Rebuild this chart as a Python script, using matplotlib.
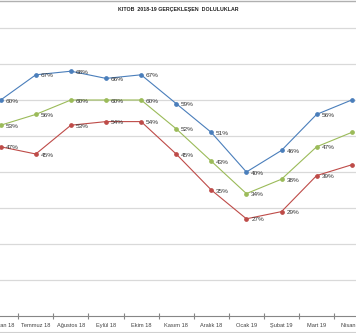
import matplotlib
matplotlib.use("Agg")
import matplotlib.pyplot as plt
from matplotlib.lines import Line2D

months = ['Haziran 18', 'Temmuz 18', 'Ağustos 18', 'Eylül 18', 'Ekim 18', 'Kasım 18',
          'Aralık 18', 'Ocak 19', 'Şubat 19', 'Mart 19', 'Nisan 19']
blue = [60, 67, 68, 66, 67, 59, 51, 40, 46, 56, 60]
green = [53, 56, 60, 60, 60, 52, 43, 34, 38, 47, 51]
red = [47, 45, 53, 54, 54, 45, 35, 27, 29, 39, 42]

# last point has no label in the picture
series = [(blue, '#4A7EBB'), (green, '#9BBB59'), (red, '#BE4B48')]

plt.rcParams['font.family'] = ['Liberation Sans', 'DejaVu Sans']

W, H = 356, 333
fig = plt.figure(figsize=(W / 100, H / 100), dpi=100)
ax = fig.add_axes([0, 17 / H, 1, 316 / H])

x = list(range(len(months)))
for vals, col in series:
    ax.plot(x, vals, color=col, lw=0.8, marker='o', ms=2.4, zorder=3)
    for i, v in enumerate(vals[:-1]):
        ax.annotate('%d%%' % v, (i, v), xytext=(3.5, -0.8), textcoords='offset points',
                    fontsize=4.6, va='center', ha='left', color='#333333', zorder=4)

ax.set_xlim(-0.02, (W - 0.7) / 35.1)
ax.set_ylim(0, 316 / 3.6)
ax.set_yticks(range(10, 90, 10))
ax.yaxis.grid(True, color='#D9D9D9', lw=0.9)
ax.set_axisbelow(True)
ax.tick_params(axis='y', left=False, labelleft=False)

ax.set_xticks(x)
ax.set_xticklabels(months, fontsize=4.1, color='#404040')
ax.set_xticks([i + 0.5 for i in x[:-1]], minor=True)
ax.tick_params(axis='x', which='major', length=0, pad=5)
ax.tick_params(axis='x', which='minor', length=4, direction='inout', color='#868686', width=0.8)

for s in ['top', 'left', 'right']:
    ax.spines[s].set_visible(False)
ax.spines['bottom'].set_color('#868686')
ax.spines['bottom'].set_linewidth(0.8)
ax.patch.set_alpha(0)

fig.text(0.5, 1 - 9 / H, 'KITOB  2018-19 GERÇEKLEŞEN  DOLULUKLAR', ha='center', va='center',
         fontsize=3.8, fontweight='bold', color='#202020')
fig.add_artist(Line2D([0, 1], [1 - 0.8 / H, 1 - 0.8 / H], color='#B0B0B0', lw=1))
fig.add_artist(Line2D([0, 1], [1.5 / H, 1.5 / H], color='#D0D0D0', lw=0.8))

fig.savefig('out.png', dpi=100)
